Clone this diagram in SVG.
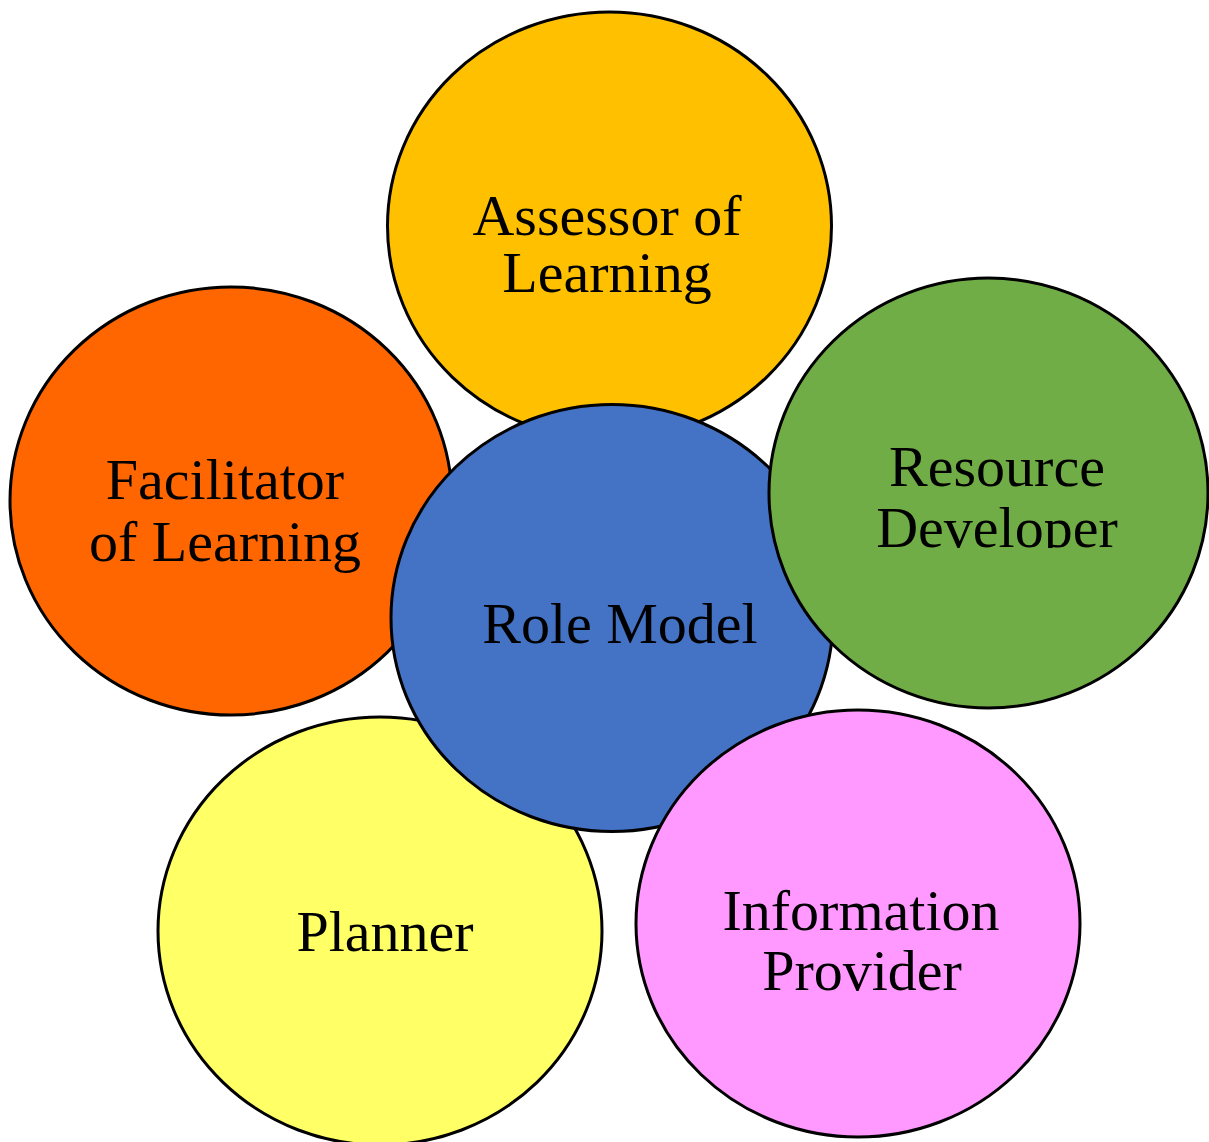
<svg xmlns="http://www.w3.org/2000/svg" width="1209" height="1142" viewBox="0 0 1209 1142">
  <style>
    .node ellipse { stroke: #000; stroke-width: 3; }
    .node text { font-family: "Liberation Serif", "Times New Roman", serif; font-size: 58px; fill: #000; text-anchor: middle; }
  </style>
  <defs>
    <clipPath id="clipDev">
      <rect x="760" y="270" width="449" height="278"/>
    </clipPath>
  </defs>
  <rect width="1209" height="1142" fill="#fff"/>
  <g id="connectors"></g>
  <g id="node-facilitator" class="node">
    <ellipse cx="231" cy="501" rx="221" ry="214" fill="#FF6600"/>
    <text x="225" y="499">Facilitator</text>
    <text x="225" y="561">of Learning</text>
  </g>
  <g id="node-assessor" class="node">
    <ellipse cx="609.5" cy="226" rx="222" ry="214" fill="#FFC000"/>
    <text x="607" y="235">Assessor of</text>
    <text x="607" y="292">Learning</text>
  </g>
  <g id="node-planner" class="node">
    <ellipse cx="380" cy="931" rx="222" ry="214" fill="#FFFF66"/>
    <text x="385" y="951">Planner</text>
  </g>
  <g id="node-rolemodel" class="node">
    <ellipse cx="612" cy="618" rx="221" ry="213.5" fill="#4472C4"/>
    <text x="620" y="643">Role Model</text>
  </g>
  <g id="node-resource" class="node">
    <ellipse cx="988.5" cy="493" rx="219.5" ry="215" fill="#70AD47"/>
    <g clip-path="url(#clipDev)">
      <text x="997" y="486">Resource</text>
      <text x="997" y="547">Developer</text>
    </g>
  </g>
  <g id="node-information" class="node">
    <ellipse cx="858" cy="923.5" rx="222" ry="213.5" fill="#FF99FF"/>
    <text x="861" y="930">Information</text>
    <text x="862" y="990">Provider</text>
  </g>
</svg>
